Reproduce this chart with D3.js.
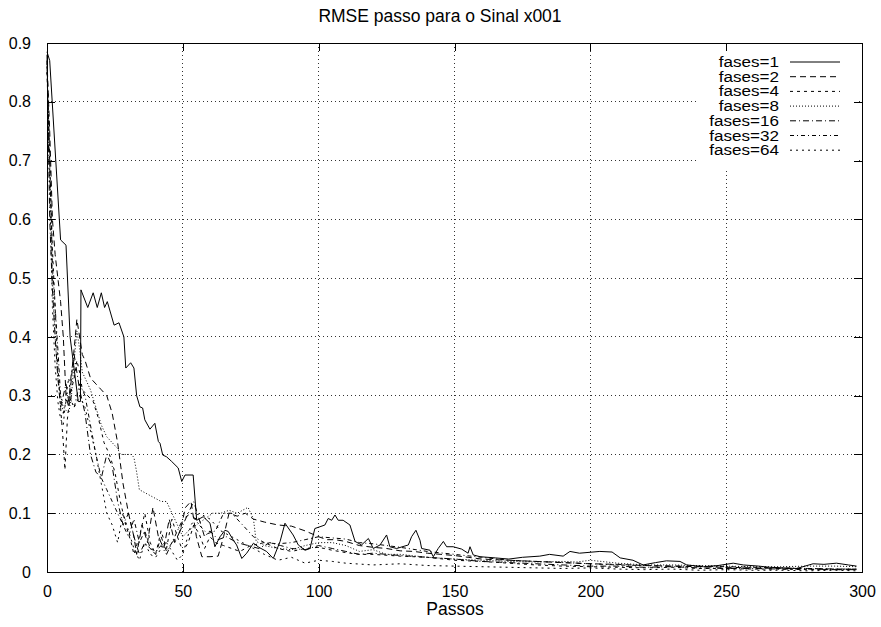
<!DOCTYPE html>
<html><head><meta charset="utf-8">
<script src="https://cdn.jsdelivr.net/npm/d3@7"></script>
<style>body{margin:0;background:#fff}svg{display:block}text{font-family:"Liberation Sans",Arial,sans-serif}</style>
</head><body><svg id="c" width="881" height="627"></svg>
<script>
const title = "RMSE passo para o Sinal x001";
const xLabel = "Passos";
const xTicks = [0,50,100,150,200,250,300];
const yTicks = [0,0.1,0.2,0.3,0.4,0.5,0.6,0.7,0.8,0.9];
const seriesNames = ["fases=1","fases=2","fases=4","fases=8","fases=16","fases=32","fases=64"];

const s1x = [0,1,5,7,8.5,11.5,12.3,12.5,15,17,18.5,20,21.2,22.2,24.7,26.5,28.3,29,30.8,32,33,34.2,35.2,36,37.9,39.7,41,41.6,42.6,44,45.9,48.3,49.6,50.8,53.8,55.1,57.5,60,61.8,63.7,65.5,66.7,68.6,69.8,71.7,73.5,76,78,80.8,83.3,85.8,87.6,90.6,92.5,95,96.8,98.6,100.5,102.3,103.5,104.8,106,107.2,109,111.5,113.4,115.8,118.3,120.1,122.6,125,126.2,128.7,133,134.2,135.8,137.3,137.9,141,142.2,144,145.9,147.1,149.5,152.6,155,155.7,156.9,159.4,165,170,175,181.4,185,190,192.5,196,203.5,208,211,215.7,219.4,224,228,233,235.5,241.6,247,252.6,256.3,262,266,271,276,282,286,290.6,295,298];
const s1y = [0.885,0.87,0.565,0.556,0.40,0.29,0.29,0.48,0.45,0.475,0.45,0.475,0.45,0.46,0.42,0.424,0.40,0.347,0.356,0.347,0.30,0.281,0.279,0.259,0.243,0.253,0.222,0.219,0.199,0.196,0.188,0.177,0.154,0.165,0.165,0.088,0.094,0.083,0.043,0.06,0.071,0.069,0.054,0.046,0.023,0.032,0.049,0.042,0.035,0.023,0.052,0.083,0.063,0.046,0.037,0.04,0.074,0.077,0.08,0.091,0.088,0.097,0.088,0.088,0.08,0.052,0.046,0.057,0.04,0.046,0.063,0.043,0.04,0.046,0.06,0.071,0.054,0.04,0.037,0.026,0.04,0.052,0.043,0.043,0.039,0.032,0.043,0.029,0.026,0.024,0.022,0.025,0.027,0.03,0.027,0.035,0.032,0.035,0.034,0.024,0.02,0.012,0.016,0.019,0.018,0.012,0.009,0.011,0.015,0.012,0.01,0.008,0.007,0.006,0.014,0.013,0.015,0.012,0.01];

const s2x = [0,1,2,3,4,5,6,7,8,9,10,11,12,13,14,16,18,20,22,24,26,28,30,32,33,35,37,39,41,43,45,47,49,51,53,55,57,60,63,65,67,70,73,76,80,85,90,95,100,103,106,110,115,120,125,130,135,140,145,150,155,160,170,180,190,200,210,220,230,240,250,260,270,280,290,298];
const s2y = [0.87,0.75,0.6,0.54,0.5,0.46,0.4,0.3,0.28,0.33,0.38,0.43,0.4,0.37,0.36,0.33,0.32,0.31,0.3,0.27,0.22,0.15,0.1,0.06,0.03,0.08,0.05,0.11,0.06,0.04,0.09,0.05,0.07,0.11,0.12,0.06,0.026,0.026,0.027,0.06,0.1,0.095,0.1,0.09,0.085,0.08,0.078,0.07,0.06,0.055,0.055,0.052,0.045,0.042,0.04,0.036,0.035,0.032,0.03,0.028,0.025,0.022,0.02,0.018,0.016,0.014,0.013,0.011,0.01,0.009,0.008,0.007,0.006,0.006,0.005,0.005];

const s3x = [0,1,2,3,4,5,6,6.6,7.5,8.5,10,11,12,13,15,17,19,21,23,25,27,29,31,32,34,36,38,40,42,44,46,48,50,52,54,56,58,60,62,65,68,71,75,80,85,90,95,100,105,110,115,120,130,140,150,160,170,180,190,200,210,220,230,240,250,260,270,280,290,298];
const s3y = [0.85,0.7,0.55,0.45,0.35,0.28,0.22,0.174,0.26,0.3,0.33,0.36,0.34,0.31,0.3,0.29,0.26,0.22,0.2,0.17,0.12,0.08,0.05,0.03,0.06,0.1,0.05,0.03,0.07,0.04,0.09,0.06,0.035,0.05,0.08,0.065,0.04,0.06,0.05,0.045,0.04,0.035,0.045,0.05,0.04,0.035,0.04,0.042,0.037,0.033,0.03,0.03,0.027,0.025,0.02,0.018,0.015,0.012,0.01,0.009,0.008,0.007,0.008,0.006,0.006,0.005,0.005,0.004,0.004,0.004];

const s4x = [0,1,2,3,4,5,6,8,9,10,11,12,13,14,16,18,20,22,24,26,27,29,31,32,33,34,36,38,40,42,44,46,48,50,52,55,58,61,64,67,70,72,74,76,77,80,85,90,95,100,105,110,115,120,125,130,140,150,160,170,180,190,195,200,210,220,230,240,250,260,270,280,290,298];
const s4y = [0.86,0.7,0.5,0.4,0.33,0.3,0.28,0.27,0.3,0.36,0.41,0.38,0.34,0.33,0.31,0.28,0.25,0.23,0.22,0.21,0.2,0.2,0.2,0.195,0.17,0.14,0.135,0.13,0.125,0.12,0.12,0.1,0.08,0.06,0.07,0.08,0.09,0.1,0.1,0.105,0.1,0.105,0.11,0.09,0.052,0.045,0.04,0.038,0.045,0.05,0.05,0.045,0.035,0.038,0.03,0.03,0.025,0.022,0.02,0.018,0.017,0.018,0.017,0.02,0.015,0.012,0.012,0.011,0.01,0.009,0.009,0.01,0.01,0.009];

const s5x = [0,1,2,3,4,5,6,7,8,9,10,12,14,16,18,20,22,24,26,28,30,32,34,36,38,40,42,44,46,48,50,52,54,56,58,60,63,66,70,74,78,82,86,90,95,100,105,110,115,120,125,130,140,150,160,170,180,190,200,210,220,230,240,250,260,270,280,290,298];
const s5y = [0.88,0.6,0.48,0.4,0.33,0.28,0.3,0.32,0.29,0.34,0.37,0.31,0.27,0.2,0.17,0.16,0.2,0.18,0.12,0.08,0.1,0.06,0.03,0.05,0.04,0.035,0.045,0.03,0.05,0.06,0.08,0.1,0.12,0.09,0.06,0.07,0.055,0.06,0.05,0.045,0.04,0.05,0.045,0.04,0.038,0.045,0.04,0.035,0.03,0.032,0.03,0.028,0.025,0.022,0.018,0.016,0.014,0.012,0.01,0.01,0.008,0.009,0.007,0.006,0.006,0.005,0.005,0.004,0.004];

const s6x = [0,1,2,3,4,5,6,7,8,10,12,14,16,18,20,22,24,26,28,30,32,34,36,38,40,42,44,46,48,50,53,56,59,62,65,68,72,76,80,85,90,95,100,105,110,115,120,130,140,150,160,170,180,190,200,210,220,230,240,250,260,270,280,290,298];
const s6y = [0.87,0.7,0.52,0.45,0.38,0.3,0.27,0.29,0.3,0.28,0.32,0.3,0.25,0.2,0.16,0.14,0.12,0.1,0.08,0.06,0.09,0.05,0.07,0.04,0.03,0.06,0.035,0.05,0.07,0.09,0.1,0.08,0.065,0.07,0.1,0.1,0.08,0.06,0.05,0.048,0.05,0.055,0.06,0.058,0.056,0.05,0.048,0.042,0.035,0.03,0.025,0.02,0.018,0.016,0.014,0.012,0.011,0.01,0.01,0.009,0.008,0.007,0.006,0.005,0.005];

const s7x = [0,1,2,3,4,5,6,7,8,9,10,12,14,16,18,20,22,24,26,28,30,32,34,36,38,40,42,44,46,48,50,53,56,60,64,68,72,76,80,85,90,95,100,105,110,120,130,140,150,160,170,180,190,200,210,220,230,240,250,260,270,280,290,298];
const s7y = [0.86,0.65,0.45,0.35,0.29,0.26,0.25,0.3,0.33,0.29,0.28,0.3,0.28,0.24,0.2,0.15,0.1,0.08,0.05,0.1,0.07,0.04,0.02,0.05,0.03,0.025,0.04,0.05,0.035,0.02,0.03,0.08,0.1,0.09,0.07,0.06,0.05,0.04,0.03,0.02,0.025,0.015,0.02,0.018,0.015,0.012,0.014,0.011,0.01,0.009,0.008,0.007,0.006,0.007,0.005,0.004,0.005,0.003,0.004,0.003,0.003,0.002,0.003,0.002];

const allX = [s1x,s2x,s3x,s4x,s5x,s6x,s7x];
const allY = [s1y,s2y,s3y,s4y,s5y,s6y,s7y];
const dashes = [null,"6,4","3,4","1,2","6,3,1,3","4,3,1,3","2,4"];

const W = 881, H = 627;
const m = {l:47, r:19, t:43, b:55};
const svg = d3.select("#c");
const x = d3.scaleLinear().domain([0,300]).range([m.l, W-m.r]);
const y = d3.scaleLinear().domain([0,0.9]).range([H-m.b, m.t]);

// grid
const g = svg.append("g").attr("stroke","#333").attr("stroke-dasharray","1,3").attr("shape-rendering","crispEdges");
xTicks.slice(1,-1).forEach(t => g.append("line").attr("x1",x(t)).attr("x2",x(t)).attr("y1",y(0)).attr("y2",y(0.9)));
yTicks.slice(1,-1).forEach(t => g.append("line").attr("y1",y(t)).attr("y2",y(t)).attr("x1",x(0)).attr("x2",x(300)));

// legend background
const lg = svg.append("g");
lg.append("rect").attr("x",697).attr("y",46).attr("width",160).attr("height",122).attr("fill","#fff");

// axes (ticks inward, mirrored)
const tl = 8;
const ax = svg.append("g").attr("shape-rendering","crispEdges");
const xb = ax.append("g").attr("transform",`translate(0,${y(0)})`).call(d3.axisBottom(x).tickValues(xTicks).tickSize(-tl).tickPadding(14).tickFormat(d3.format("d")));
const xt = ax.append("g").attr("transform",`translate(0,${y(0.9)})`).call(d3.axisTop(x).tickValues(xTicks).tickSize(-tl).tickFormat(""));
const yl = ax.append("g").attr("transform",`translate(${x(0)},0)`).call(d3.axisLeft(y).tickValues(yTicks).tickSize(-tl).tickPadding(16).tickFormat(d3.format(".1~f")));
const yr = ax.append("g").attr("transform",`translate(${x(300)},0)`).call(d3.axisRight(y).tickValues(yTicks).tickSize(-tl).tickFormat(""));
[xb,xt,yl,yr].forEach(a => { a.select(".domain").remove(); a.selectAll("line").attr("stroke","#000"); a.selectAll("text").attr("font-size",16).attr("fill","#000").attr("font-family","Liberation Sans, Arial, sans-serif"); });
yl.selectAll("text").text(d => d === 0 ? "0" : d3.format(".1f")(d));
svg.append("rect").attr("x",x(0)).attr("y",y(0.9)).attr("width",x(300)-x(0)).attr("height",y(0)-y(0.9)).attr("fill","none").attr("stroke","#000").attr("shape-rendering","crispEdges");

// series
const line = d3.line().x(d => x(d[0])).y(d => y(d[1]));
allX.forEach((xs,i) => {
  const pts = xs.map((v,j) => [v, allY[i][j]]);
  svg.append("path").datum(pts).attr("d",line).attr("fill","none").attr("stroke","#000").attr("stroke-width",1)
    .attr("stroke-dasharray",dashes[i]);
});

// legend
seriesNames.forEach((n,i) => {
  const cy = 62 + i*14.7;
  lg.append("text").attr("transform",`translate(779,${cy+5}) scale(1.22,1.05)`).attr("text-anchor","end").attr("font-size",14).text(n);
  lg.append("line").attr("x1",790).attr("x2",840).attr("y1",cy).attr("y2",cy).attr("stroke","#000").attr("stroke-dasharray",dashes[i]);
});

svg.append("text").attr("x",440).attr("y",22).attr("text-anchor","middle").attr("font-size",17.5).text(title);
svg.append("text").attr("x",455).attr("y",615).attr("text-anchor","middle").attr("font-size",17.5).text(xLabel);
</script></body></html>
